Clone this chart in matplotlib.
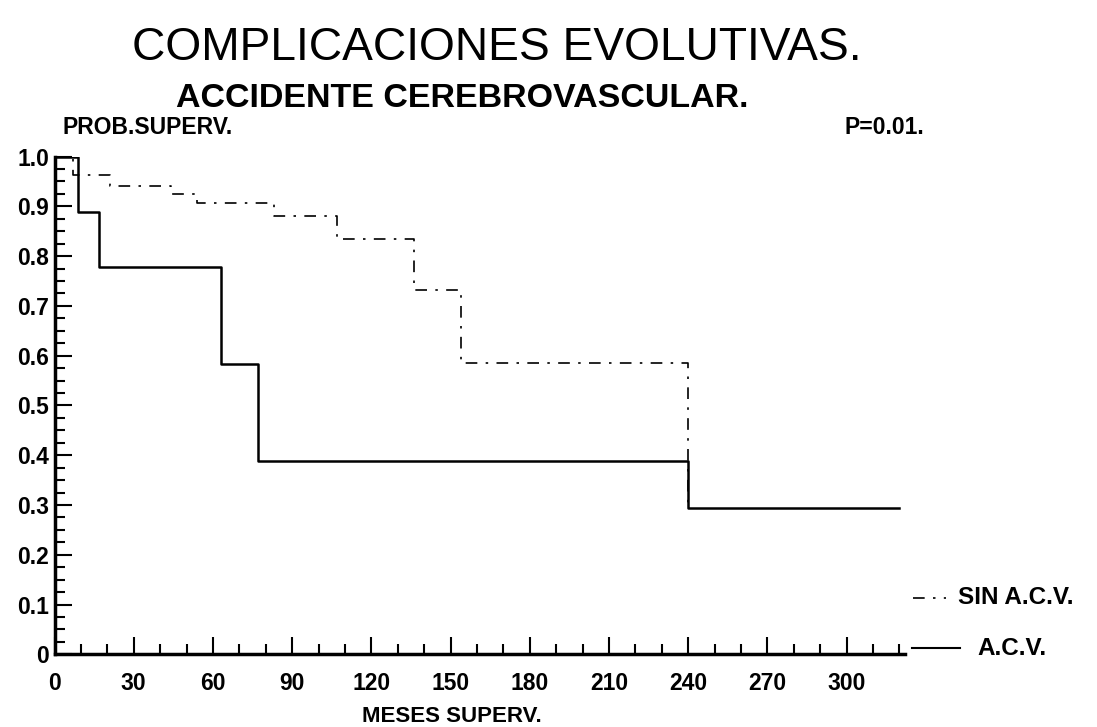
import matplotlib
matplotlib.use("Agg")
import matplotlib.pyplot as plt
from matplotlib.ticker import MultipleLocator, FixedLocator

# Data (Kaplan-Meier steps)
acv_t = [0, 9, 17, 63, 77, 240, 320]
acv_s = [1.0, 0.889, 0.778, 0.583, 0.389, 0.294, 0.294]
sin_t = [0, 7, 21, 44, 54, 83, 107, 136, 154, 240]
sin_s = [1.0, 0.963, 0.941, 0.924, 0.907, 0.880, 0.835, 0.731, 0.585, 0.294]

x_ticks = [0, 30, 60, 90, 120, 150, 180, 210, 240, 270, 300]
x_labels = ["0", "30", "60", "90", "120", "150", "180", "210", "240", "270", "300"]
y_ticks = [0, 0.1, 0.2, 0.3, 0.4, 0.5, 0.6, 0.7, 0.8, 0.9, 1.0]
y_labels = ["0", "0.1", "0.2", "0.3", "0.4", "0.5", "0.6", "0.7", "0.8", "0.9", "1.0"]

title = "COMPLICACIONES EVOLUTIVAS."
subtitle = "ACCIDENTE CEREBROVASCULAR."
ylabel = "PROB.SUPERV."
xlabel = "MESES SUPERV."
pval = "P=0.01."
leg_sin = "SIN A.C.V."
leg_acv = "A.C.V."

plt.rcParams['font.family'] = ['Liberation Sans', 'DejaVu Sans']

fig = plt.figure(figsize=(10.97, 7.27), dpi=100)
ax = fig.add_axes([0.0497, 0.1, 0.775, 0.6847])

ax.step(sin_t, sin_s, where='post', color='black', lw=1.2,
        linestyle=(0, (7, 5, 1.5, 5)))
ax.step(acv_t, acv_s, where='post', color='black', lw=1.8)

ax.set_xlim(0, 322)
ax.set_ylim(0, 1.0)
for s in ['top', 'right']:
    ax.spines[s].set_visible(False)
for s in ['left', 'bottom']:
    ax.spines[s].set_linewidth(2.5)

ax.xaxis.set_major_locator(FixedLocator(x_ticks))
ax.set_xticklabels(x_labels)
ax.xaxis.set_minor_locator(MultipleLocator(10))
ax.yaxis.set_major_locator(FixedLocator(y_ticks))
ax.set_yticklabels(y_labels)
ax.yaxis.set_minor_locator(MultipleLocator(0.025))

ax.tick_params(axis='both', which='major', direction='in', length=12, width=1.5)
ax.tick_params(axis='both', which='minor', direction='in', length=7, width=1.5)
ax.tick_params(axis='x', which='major', pad=13, labelsize=16.5)
ax.tick_params(axis='y', which='major', pad=4, labelsize=16.5)
for lab in ax.get_xticklabels() + ax.get_yticklabels():
    lab.set_fontweight('bold')

fig.text(0.453, 0.934, title, ha='center', va='center', fontsize=33.2)
fig.text(0.421, 0.865, subtitle, ha='center', va='center', fontsize=24.5, fontweight='bold')
fig.text(0.057, 0.824, ylabel, ha='left', va='center', fontsize=16.5, fontweight='bold')
fig.text(0.770, 0.824, pval, ha='left', va='center', fontsize=16.5, fontweight='bold')
fig.text(0.412, 0.014, xlabel, ha='center', va='center', fontsize=16, fontweight='bold')

# legend drawn in figure coords
fig.add_artist(plt.Line2D([0.832, 0.862], [0.178, 0.178], color='black', lw=1.2,
                          linestyle=(0, (7, 5, 1.5, 5)), transform=fig.transFigure))
fig.text(0.873, 0.178, leg_sin, ha='left', va='center', fontsize=17.5, fontweight='bold')
fig.add_artist(plt.Line2D([0.831, 0.875], [0.108, 0.108], color='black', lw=1.5,
                          transform=fig.transFigure))
fig.text(0.891, 0.108, leg_acv, ha='left', va='center', fontsize=17.5, fontweight='bold')

fig.savefig("out.png", dpi=100)
